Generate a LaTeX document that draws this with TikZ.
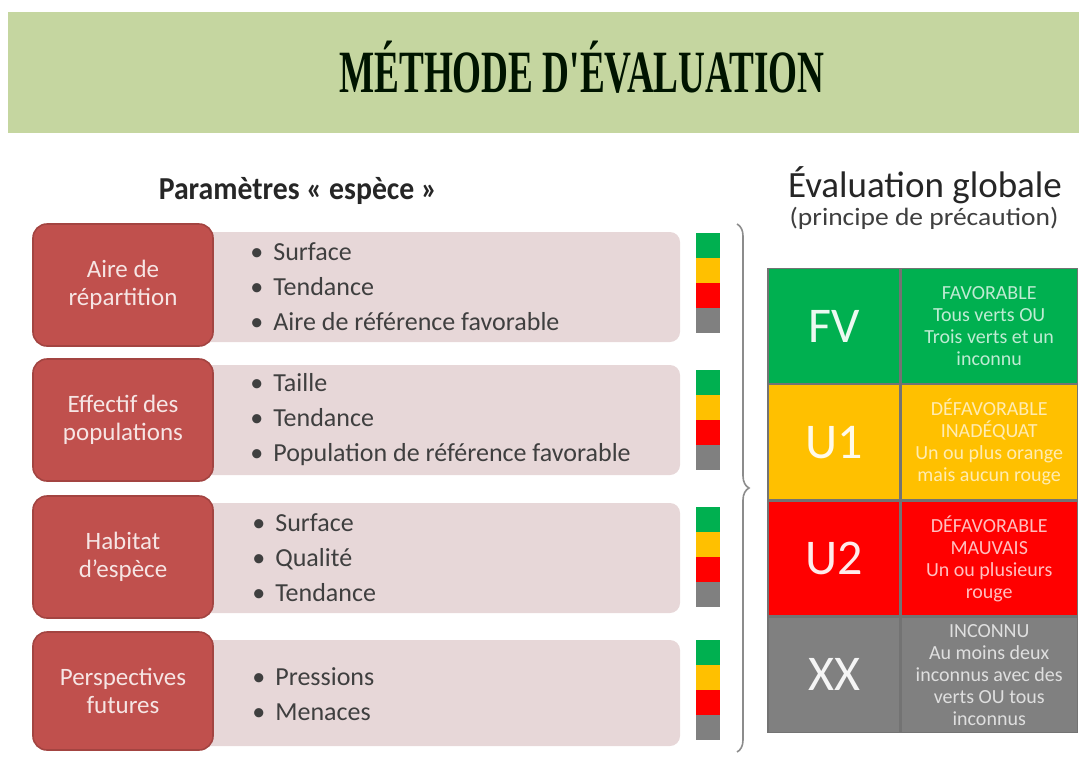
\documentclass[tikz,border=0pt]{standalone}
\usepackage{fontspec}
\setmainfont{Carlito}
\newfontfamily\titrefont{Liberation Serif}
\usetikzlibrary{positioning,calc,decorations.pathreplacing}

\definecolor{bandeau}{HTML}{C5D6A0}
\definecolor{critrouge}{HTML}{C0504D}
\definecolor{critrose}{HTML}{E7D7D8}
\definecolor{fvvert}{HTML}{00B050}
\definecolor{uunjaune}{HTML}{FFC000}
\definecolor{udeuxrouge}{HTML}{FF0000}
\definecolor{xxgris}{HTML}{808080}
\definecolor{textgris}{HTML}{3F3F3F}

\begin{document}
\begin{tikzpicture}[x=0.5pt,y=-0.5pt,
    critere/.style={fill=critrouge, draw=critrouge!85!black, line width=0.8pt, rounded corners=7pt,
      minimum width=90pt, minimum height=61pt, text=white!85!critrouge, align=center,
      font=\fontsize{12.5}{14}\selectfont, inner sep=2pt},
    liste/.style={fill=critrose, rounded corners=5pt, minimum width=240pt, minimum height=55pt},
    puces/.style={anchor=west, align=left, text=textgris, font=\fontsize{13}{17.5}\selectfont, inner sep=0pt},
    etat/.style={minimum width=66pt, minimum height=57.5pt, draw=black!55, line width=0.6pt,
      font=\fontsize{25}{25}\selectfont, inner sep=0pt},
    detail/.style={minimum width=88pt, minimum height=57.5pt, draw=black!55, line width=0.6pt,
      align=center, font=\fontsize{10}{11}\selectfont, inner sep=0pt}]
  \useasboundingbox (0,0) rectangle (1079,756);

  % bandeau du titre
  \fill[bandeau] (8,12) rectangle (1079,133);
  \node[anchor=base, text=black!92!green, font=\titrefont\bfseries\fontsize{30}{30}\selectfont] (titre) at (582,92)
    {\scalebox{0.62}[1]{MÉTHODE D'ÉVALUATION}};

  \node[anchor=base, text=black!85, font=\bfseries\fontsize{16}{16}\selectfont] (parametres) at (298,199)
    {\scalebox{0.93}[1]{Paramètres «~espèce~»}};
  \node[anchor=base, text=black!85, font=\fontsize{18.5}{18.5}\selectfont] (globale) at (925,197) {Évaluation globale};
  \node[anchor=base, text=textgris, font=\fontsize{12.5}{12.5}\selectfont] (precaution) at (924,225)
    {\scalebox{1.1}[1]{(principe de précaution)}};

  % parametres espece
  \node[liste] (rose1) at (440,287) {};
  \node[liste] (rose2) at (440,420) {};
  \node[liste] (rose3) at (440,558) {};
  \node[liste, minimum height=53pt] (rose4) at (440,693) {};

  \node[critere] (aire) at (123,285) {Aire de\\répartition};
  \node[critere] (effectif) at (123,420) {Effectif des\\populations};
  \node[critere] (habitat) at (123,557) {Habitat\\d'espèce};
  \node[critere, minimum height=59pt] (perspectives) at (123,691) {Perspectives\\futures};

  \node[puces] (liste1) at (250,287) {\textbullet\hspace{5pt}Surface\\\textbullet\hspace{5pt}Tendance\\\textbullet\hspace{5pt}Aire de référence favorable};
  \node[puces] (liste2) at (250,420) {\textbullet\hspace{5pt}Taille\\\textbullet\hspace{5pt}Tendance\\\textbullet\hspace{5pt}Population de référence favorable};
  \node[puces] (liste3) at (252,558) {\textbullet\hspace{5pt}Surface\\\textbullet\hspace{5pt}Qualité\\\textbullet\hspace{5pt}Tendance};
  \node[puces] (liste4) at (252,694) {\textbullet\hspace{5pt}Pressions\\\textbullet\hspace{5pt}Menaces};

  % barres de couleur
  \foreach \yc in {283,420,557,690} {
    \fill[fvvert] (696,\yc-50) rectangle (720,\yc-25);
    \fill[uunjaune] (696,\yc-25) rectangle (720,\yc);
    \fill[udeuxrouge] (696,\yc) rectangle (720,\yc+25);
    \fill[xxgris] (696,\yc+25) rectangle (720,\yc+50);
  }

  \coordinate (haut) at (737,224);
  \coordinate (bas) at (737,752);
  \draw[decorate, decoration={brace, amplitude=6pt}, black!45, line width=0.8pt] (haut) -- (bas);

  % evaluation globale
  \node[etat, fill=fvvert, text=white!92!fvvert] (fv) at (834,326) {FV};
  \node[etat, fill=uunjaune, text=white!92!uunjaune, below=0pt of fv] (uun) {U1};
  \node[etat, fill=udeuxrouge, text=white!92!udeuxrouge, below=0pt of uun] (udeux) {U2};
  \node[etat, fill=xxgris, text=white!92!xxgris, below=0pt of udeux] (xx) {XX};

  \node[detail, fill=fvvert, text=white!75!fvvert, right=0pt of fv] (fvtexte)
    {FAVORABLE\\Tous verts OU\\Trois verts et un\\inconnu};
  \node[detail, fill=uunjaune, text=white!70!uunjaune, right=0pt of uun] (uuntexte)
    {DÉFAVORABLE\\INADÉQUAT\\Un ou plus orange\\mais aucun rouge};
  \node[detail, fill=udeuxrouge, text=white!75!udeuxrouge, right=0pt of udeux] (udeuxtexte)
    {DÉFAVORABLE\\MAUVAIS\\Un ou plusieurs\\rouge};
  \node[detail, fill=xxgris, text=white!75!xxgris, right=0pt of xx] (xxtexte)
    {INCONNU\\Au moins deux\\inconnus avec des\\verts OU tous\\inconnus};
\end{tikzpicture}
\end{document}
